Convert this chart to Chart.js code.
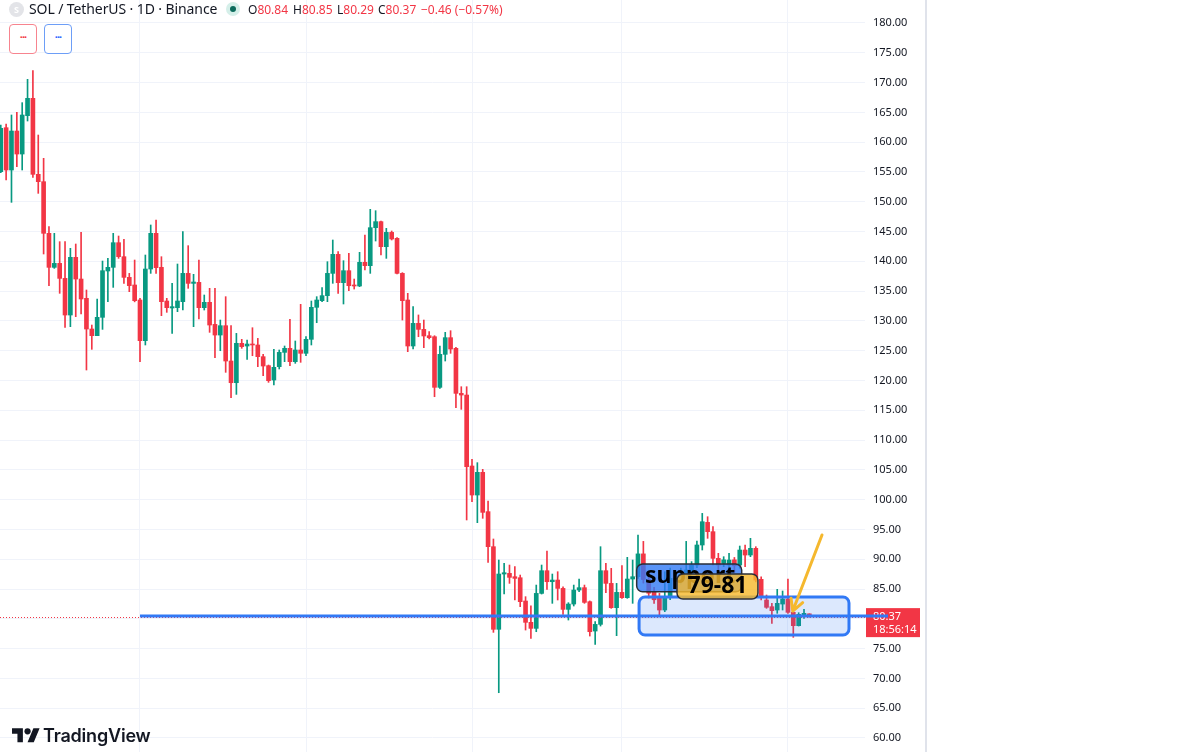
<!DOCTYPE html>
<html>
<head>
<meta charset="utf-8">
<script src="https://cdn.jsdelivr.net/npm/chart.js@4.4.1/dist/chart.umd.min.js"></script>
<style>
  html, body { margin: 0; padding: 0; background: #fff; }
  body { width: 1200px; height: 752px; overflow: hidden; position: relative; font-family: "Noto Sans", sans-serif; color: #131722; }
  #pane { position: absolute; left: 0; top: 0; width: 925px; height: 752px; border-right: 2px solid #e0e3eb; }
  #chartBox { position: absolute; left: 0; top: 0; width: 925px; height: 752px; }
  .abs { position: absolute; white-space: nowrap; }
  #symIcon { left: 9px; top: 2px; width: 15px; height: 15px; border-radius: 50%; background: #e3e4e8; color: #fff; font-size: 9px; font-weight: 700; text-align: center; line-height: 15px; }
  #title { left: 29px; top: -1px; font-size: 14px; line-height: 20px; letter-spacing: -0.1px; }
  #dot { left: 226px; top: 2px; width: 14px; height: 14px; border-radius: 50%; background: #d5efe9; }
  #dot::after { content: ""; position: absolute; left: 4px; top: 4px; width: 6px; height: 6px; border-radius: 50%; background: #0c6b5c; }
  .ohlc { top: 1px; font-size: 12px; line-height: 18px; }
  .ohlc b { font-weight: 400; color: #131722; }
  .ohlc span { color: #f23645; }
  .btn { top: 24px; width: 26px; height: 28px; border-radius: 4px; background: #fff; font-size: 11px; font-weight: 700; text-align: center; line-height: 24px; letter-spacing: -1px; }
  #btnRed { left: 9px; border: 1px solid #f7848f; color: #f23645; }
  #btnBlue { left: 44px; border: 1px solid #6d9ef7; color: #2962ff; }
  #tvLogo { left: 12px; top: 725px; }
  #tvText { left: 43px; top: 723px; font-family: Inter, "Noto Sans", sans-serif; font-weight: 600; font-size: 18px; line-height: 26px; color: #131722; letter-spacing: -0.2px; }
</style>
</head>
<body>
<div id="pane">
  <div id="chartBox"><canvas id="solChart"></canvas></div>
</div>

<div class="abs" id="symIcon">S</div>
<div class="abs" id="title">SOL / TetherUS · 1D · Binance</div>
<div class="abs" id="dot"></div>
<div class="abs ohlc" style="left:248px"><b>O</b><span>80.84</span></div>
<div class="abs ohlc" style="left:293px"><b>H</b><span>80.85</span></div>
<div class="abs ohlc" style="left:337px"><b>L</b><span>80.29</span></div>
<div class="abs ohlc" style="left:378px"><b>C</b><span>80.37</span></div>
<div class="abs ohlc" style="left:421px"><span>−0.46 (−0.57%)</span></div>
<div class="abs btn" id="btnRed">···</div>
<div class="abs btn" id="btnBlue">···</div>

<svg class="abs" id="tvLogo" width="28" height="22" viewBox="0 0 36 28">
  <path d="M14 22H7V11H0V4h14v18zM28 22h-8l7.5-18h8L28 22z" fill="#131722"/>
  <circle cx="20" cy="8" r="4" fill="#131722"/>
</svg>
<div class="abs" id="tvText">TradingView</div>

<script>
// daily candles, SOL/USDT
const opens = [
  155.05, 162.43, 155.33, 161.87, 158.01, 164.45, 167.36, 154.6, 153.37, 144.7,
  138.99, 139.66, 137.14, 130.99, 140.67, 137.03, 133.79, 128.64, 127.52, 130.6,
  138.38, 138.99, 143.13, 140.78, 137.31, 136.03, 133.51, 126.68, 138.71, 144.7,
  138.99, 133.34, 132.17, 132.22, 133.23, 137.98, 136.3, 136.47, 132.22, 133.12,
  129.42, 127.63, 129.2, 123.27, 119.63, 126.24, 125.79, 126.12, 125.96, 124.0,
  122.49, 120.08, 122.32, 124.72, 125.4, 123.16, 125.12, 124.56, 126.91, 132.28,
  133.4, 134.24, 137.98, 141.17, 136.42, 138.43, 136.03, 135.86, 139.83, 139.27,
  145.65, 146.66, 142.46, 144.86, 143.86, 137.98, 133.51, 125.79, 129.59, 128.58,
  127.52, 127.35, 118.85, 124.39, 127.19, 125.4, 117.84, 117.56, 105.65, 100.78,
  104.59, 97.99, 92.11, 78.24, 87.52, 87.63, 87.07, 86.9, 82.99, 79.41,
  78.4, 84.27, 88.08, 86.23, 86.51, 85.11, 81.59, 82.48, 84.83, 85.23,
  82.88, 77.95, 79.07, 88.08, 85.95, 81.87, 84.44, 83.55, 86.68, 87.07,
  90.9, 86.6, 84.5, 83.44, 81.48, 83.7, 86.8, 86.3, 87.5, 87.6,
  89.03, 92.39, 96.19, 94.63, 90.15, 89.3, 89.03, 89.9, 89.03, 91.55,
  90.71, 91.83, 86.63, 83.16, 82.04, 81.48, 82.48, 83.32, 81.09, 78.85,
  80.64, 80.84
];
const highs = [
  162.88, 163.05, 164.56, 165.0, 166.63, 170.55, 172.0, 161.2, 157.29, 145.82,
  144.7, 143.3, 143.3, 142.18, 142.91, 144.87, 135.19, 129.31, 133.68, 140.05,
  140.5, 144.7, 144.25, 143.69, 137.98, 140.22, 133.79, 141.06, 146.1, 146.93,
  140.78, 133.79, 136.3, 139.55, 144.98, 142.63, 137.82, 140.22, 134.35, 135.47,
  135.47, 130.15, 134.07, 129.2, 127.91, 126.91, 126.79, 128.86, 127.07, 124.39,
  122.6, 125.23, 125.12, 125.79, 130.27, 126.63, 132.78, 127.35, 133.34, 134.07,
  135.58, 139.94, 143.58, 141.62, 140.11, 141.34, 137.03, 141.51, 144.42, 148.73,
  148.5, 146.77, 145.54, 145.09, 143.97, 138.1, 134.63, 132.39, 131.0, 130.15,
  128.19, 127.52, 125.79, 128.08, 128.36, 125.56, 118.96, 118.96, 106.77, 106.21,
  105.09, 99.77, 93.4, 89.87, 89.31, 89.03, 88.75, 87.35, 83.72, 82.2,
  85.67, 89.03, 91.38, 87.52, 87.91, 85.39, 82.71, 85.67, 86.68, 85.67,
  83.0, 79.52, 92.11, 89.31, 88.47, 85.95, 88.92, 90.32, 89.87, 94.07,
  93.0, 88.0, 85.3, 84.27, 87.91, 88.5, 88.0, 88.5, 93.0, 89.6,
  93.06, 97.7, 97.14, 95.47, 90.99, 90.43, 90.99, 90.3, 92.22, 92.39,
  93.51, 92.11, 87.07, 84.0, 82.6, 84.95, 84.67, 86.68, 81.2, 81.03,
  81.59, 80.85
];
const lows = [
  154.88, 153.65, 149.9, 155.89, 155.33, 163.55, 154.1, 151.41, 141.23, 135.92,
  138.82, 134.63, 128.92, 129.03, 130.71, 131.16, 121.76, 125.23, 127.52, 128.58,
  133.23, 135.63, 140.5, 136.3, 134.91, 133.2, 123.16, 125.96, 137.98, 137.98,
  130.88, 131.44, 127.91, 131.55, 131.83, 135.47, 129.03, 130.32, 131.83, 128.08,
  123.83, 125.0, 121.37, 117.12, 117.67, 125.4, 123.55, 124.16, 122.32, 120.81,
  119.69, 119.24, 121.93, 123.16, 122.49, 122.88, 123.05, 124.16, 125.96, 129.7,
  133.23, 133.23, 136.31, 134.63, 132.84, 135.07, 135.35, 135.75, 138.54, 137.98,
  143.41, 141.06, 140.5, 143.58, 137.87, 130.15, 124.84, 125.28, 127.35, 125.51,
  126.96, 117.28, 118.68, 123.27, 124.56, 115.44, 115.16, 96.59, 99.66, 96.14,
  96.87, 89.48, 77.73, 67.6, 84.16, 85.95, 83.16, 82.04, 78.12, 76.72,
  77.84, 84.16, 84.95, 82.6, 83.16, 80.75, 79.8, 82.15, 84.55, 82.6,
  77.11, 75.72, 78.79, 84.39, 81.76, 77.17, 83.44, 83.44, 82.6, 86.8,
  86.0, 83.5, 82.6, 80.64, 81.2, 83.2, 85.0, 85.8, 86.8, 86.9,
  88.6, 91.55, 93.51, 89.03, 87.91, 88.75, 88.5, 87.8, 88.5, 88.75,
  90.43, 86.2, 83.16, 81.76, 79.24, 80.92, 81.48, 80.92, 76.89, 78.79,
  80.08, 80.29
];
const closes = [
  162.32, 155.33, 161.87, 158.01, 164.56, 167.36, 154.6, 153.37, 144.7, 138.99,
  139.66, 137.14, 130.99, 140.67, 137.03, 133.68, 128.64, 127.52, 130.6, 138.43,
  138.99, 143.13, 140.78, 137.31, 135.92, 133.4, 126.68, 138.71, 144.7, 138.94,
  133.23, 132.22, 132.39, 133.34, 137.98, 136.3, 136.53, 132.22, 133.12, 129.31,
  127.63, 129.2, 123.27, 119.63, 126.24, 125.68, 126.12, 125.96, 124.0, 122.43,
  119.97, 122.21, 124.72, 125.4, 123.16, 125.12, 124.56, 126.91, 132.28, 133.51,
  134.24, 137.98, 141.17, 136.42, 138.43, 135.91, 135.86, 139.83, 139.27, 145.65,
  146.66, 142.46, 144.86, 143.75, 137.98, 133.4, 125.79, 129.59, 128.58, 127.47,
  127.19, 118.85, 124.39, 127.19, 125.28, 117.84, 117.56, 105.54, 100.78, 104.59,
  97.87, 92.11, 78.24, 87.52, 87.74, 86.96, 86.79, 82.88, 79.41, 78.4,
  84.27, 88.08, 86.23, 86.51, 85.11, 81.59, 82.48, 84.83, 85.23, 82.76,
  77.84, 79.07, 88.08, 85.95, 81.87, 84.44, 83.55, 86.68, 87.07, 90.9,
  86.6, 84.3, 83.2, 81.48, 83.72, 86.8, 86.3, 87.5, 88.2, 89.0,
  92.39, 96.3, 94.63, 90.15, 89.03, 89.9, 89.87, 88.9, 91.55, 90.71,
  91.83, 86.51, 83.72, 81.93, 81.37, 82.6, 83.32, 81.09, 78.85, 80.75,
  80.92, 80.37
];

// price axis labels and the candle index of each month start (vertical grid)
const priceTicks = [60, 65, 70, 75, 80, 85, 90, 95, 100, 105, 110, 115, 120, 125, 130, 135, 140, 145, 150, 155, 160, 165, 170, 175, 180];
const monthStarts = [27, 58, 89, 117, 148];

// drawings on the chart (candle index / price)
const supportLine = { from: 27, price: 80.47 };
const zoneBox = { x0: 120.2, x1: 159.4, top: 83.66, bottom: 77.28 };
const supportLabel = { x0: 119.75, x1: 139.36, top: 89.2, bottom: 84.55, text: 'support', tx: 121.3, ty: 86.0 };
const rangeLabel = { x0: 127.28, x1: 142.4, top: 87.52, bottom: 83.32, text: '79-81', tx: 134.84, ty: 84.33 };
const arrow = { x0: 154.36, y0: 94.07, x1: 148.9, y1: 81.3 };
const countdown = '18:56:14';

const UP = '#089981', DOWN = '#f23645';
const isUp = opens.map((o, i) => closes[i] >= o);
const candleColors = isUp.map(u => (u ? UP : DOWN));

const bodyData = opens.map((o, i) => ({ x: i + 1, y: [o, closes[i]] }));
const wickData = lows.map((l, i) => ({ x: i + 1, y: [l, highs[i]] }));

const drawings = {
  id: 'drawings',
  afterDraw(chart) {
    const { ctx, chartArea: a, scales: { x, y } } = chart;
    const px = v => x.getPixelForValue(v);
    const py = v => y.getPixelForValue(v);
    const last = closes[closes.length - 1];
    ctx.save();

    // dotted last price line
    ctx.strokeStyle = DOWN;
    ctx.lineWidth = 1;
    ctx.setLineDash([1, 2]);
    ctx.beginPath();
    ctx.moveTo(a.left, Math.round(py(last)) + 0.5);
    ctx.lineTo(a.right, Math.round(py(last)) + 0.5);
    ctx.stroke();
    ctx.setLineDash([]);

    // zone rectangle
    ctx.beginPath();
    ctx.roundRect(px(zoneBox.x0), py(zoneBox.top), px(zoneBox.x1) - px(zoneBox.x0), py(zoneBox.bottom) - py(zoneBox.top), 6);
    ctx.fillStyle = 'rgba(49,121,245,0.17)';
    ctx.fill();
    ctx.lineWidth = 3;
    ctx.strokeStyle = '#3179f5';
    ctx.stroke();

    // last price tag on the axis
    const ly = py(last);
    ctx.fillStyle = DOWN;
    ctx.fillRect(a.right + 1, ly - 8.5, 54, 29);
    ctx.fillStyle = '#fff';
    ctx.font = '11px "Noto Sans"';
    ctx.textBaseline = 'middle';
    ctx.textAlign = 'left';
    ctx.fillText(last.toFixed(2), a.right + 8, ly);
    ctx.fillText(countdown, a.right + 8, ly + 13);

    // horizontal support line
    ctx.strokeStyle = '#3179f5';
    ctx.lineWidth = 3;
    ctx.beginPath();
    ctx.moveTo(px(supportLine.from), py(supportLine.price));
    ctx.lineTo(a.right + 23, py(supportLine.price));
    ctx.stroke();

    // text labels
    const label = (lb, fill) => {
      ctx.beginPath();
      ctx.roundRect(px(lb.x0), py(lb.top), px(lb.x1) - px(lb.x0), py(lb.bottom) - py(lb.top), 6);
      ctx.fillStyle = fill;
      ctx.fill();
      ctx.lineWidth = 1.5;
      ctx.strokeStyle = '#2a2e39';
      ctx.stroke();
    };
    label(supportLabel, 'rgba(49,121,245,0.8)');
    ctx.fillStyle = '#000';
    ctx.font = 'bold 23px "Noto Sans"';
    ctx.textBaseline = 'alphabetic';
    ctx.textAlign = 'left';
    ctx.fillText(supportLabel.text, px(supportLabel.tx), py(supportLabel.ty));

    label(rangeLabel, 'rgba(246,185,46,0.82)');
    ctx.fillStyle = '#000';
    ctx.textAlign = 'center';
    ctx.fillText(rangeLabel.text, px(rangeLabel.tx), py(rangeLabel.ty));

    // arrow
    const x0 = px(arrow.x0), y0 = py(arrow.y0), x1 = px(arrow.x1), y1 = py(arrow.y1);
    const ang = Math.atan2(y1 - y0, x1 - x0);
    ctx.strokeStyle = '#f5b82e';
    ctx.lineWidth = 3;
    ctx.lineCap = 'round';
    ctx.lineJoin = 'round';
    ctx.beginPath();
    ctx.moveTo(x0, y0);
    ctx.lineTo(x1, y1);
    ctx.moveTo(x1 - 13 * Math.cos(ang - 0.5), y1 - 13 * Math.sin(ang - 0.5));
    ctx.lineTo(x1, y1);
    ctx.lineTo(x1 - 13 * Math.cos(ang + 0.5), y1 - 13 * Math.sin(ang + 0.5));
    ctx.stroke();

    ctx.restore();
  }
};

new Chart(document.getElementById('solChart').getContext('2d'), {
  type: 'bar',
  data: {
    datasets: [{
      data: bodyData,
      backgroundColor: candleColors,
      borderWidth: 0,
      barThickness: 4,
      minBarLength: 1,
      grouped: false
    }, {
      data: wickData,
      backgroundColor: candleColors,
      borderWidth: 0,
      barThickness: 1,
      grouped: false
    }]
  },
  options: {
    responsive: true,
    maintainAspectRatio: false,
    animation: false,
    layout: { padding: 0 },
    plugins: {
      legend: { display: false },
      tooltip: { enabled: false }
    },
    scales: {
      x: {
        type: 'linear',
        offset: false,
        min: 0.856,
        max: 162.39,
        afterBuildTicks: s => { s.ticks = monthStarts.map(v => ({ value: v })); },
        afterFit: s => { s.height = 0; s.paddingLeft = 0; s.paddingRight = 0; },
        ticks: { display: false },
        border: { display: false },
        grid: { color: '#f0f3fa', drawTicks: false, offset: false }
      },
      y: {
        position: 'right',
        min: 57.65,
        max: 183.86,
        afterBuildTicks: s => { s.ticks = priceTicks.map(v => ({ value: v })); },
        afterFit: s => { s.width = 60; s.paddingTop = 0; s.paddingBottom = 0; },
        border: { display: false },
        grid: { color: '#f0f3fa', drawTicks: false },
        ticks: {
          padding: 8,
          color: '#131722',
          font: { family: 'Noto Sans', size: 11 },
          callback: v => Number(v).toFixed(2)
        }
      }
    }
  },
  plugins: [drawings]
});
</script>
</body>
</html>
